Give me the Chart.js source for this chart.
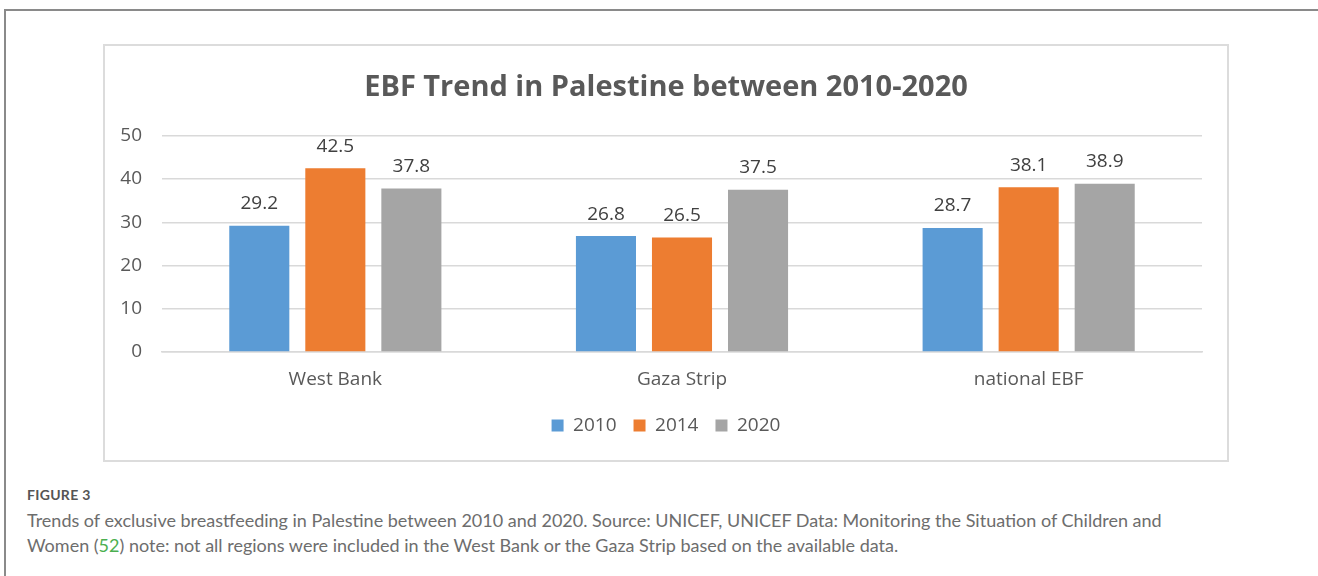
<!DOCTYPE html>
<html>
<head>
<meta charset="utf-8">
<script src="https://cdn.jsdelivr.net/npm/chart.js@4"></script>
<style>
  html, body { margin: 0; padding: 0; background: #fff; }
  body { width: 1318px; height: 576px; position: relative; overflow: hidden; }
  .frame {
    position: absolute; left: 4px; top: 9px; width: 1400px; height: 700px;
    border-top: 2px solid #8a8a8a; border-left: 2px solid #8a8a8a;
  }
  .chart-box {
    position: absolute; left: 103px; top: 44px; width: 1122px; height: 414px;
    border: 2px solid #dcdcdc;
  }
  .chart-box canvas { display: block; }
  .caption {
    position: absolute; left: 27px; top: 486px; width: 1280px;
    font-family: "Lato", "Open Sans", sans-serif; color: #6d6d6d;
  }
  .caption .fig { font-size: 14px; font-weight: 700; color: #555; letter-spacing: 0.3px; margin-bottom: 5px; }
  .caption .txt { font-size: 18px; line-height: 25px; }
  .caption .ref { color: #4caf50; }
</style>
</head>
<body>
<div class="frame"></div>
<div class="chart-box"><canvas id="ebf" width="1122" height="414"></canvas></div>
<div class="caption">
  <div class="fig">FIGURE 3</div>
  <div class="txt">Trends of exclusive breastfeeding in Palestine between 2010 and 2020. Source: UNICEF, UNICEF Data: Monitoring the Situation of Children and<br>Women (<span class="ref">52</span>) note: not all regions were included in the West Bank or the Gaza Strip based on the available data.</div>
</div>
<script>
  // EBF rates (%) by region and survey year
  const regions = ['West Bank', 'Gaza Strip', 'national EBF'];
  const years = ['2010', '2014', '2020'];
  const ebf2010 = [29.2, 26.8, 28.7];
  const ebf2014 = [42.5, 26.5, 38.1];
  const ebf2020 = [37.8, 37.5, 38.9];
  const yTicks = [0, 10, 20, 30, 40, 50];
  const colors = ['#5b9bd5', '#ed7d31', '#a5a5a5'];

  const FONT = '"Open Sans", sans-serif';
  const TEXT = '#595959';

  // value labels drawn above each bar
  const barValues = {
    id: 'barValues',
    afterDatasetsDraw(chart) {
      const ctx = chart.ctx;
      ctx.save();
      ctx.font = '19px ' + FONT;
      ctx.fillStyle = '#404040';
      ctx.textAlign = 'center';
      ctx.textBaseline = 'middle';
      chart.data.datasets.forEach((ds, i) => {
        chart.getDatasetMeta(i).data.forEach((bar, j) => {
          ctx.fillText(ds.data[j].toFixed(1), bar.x, bar.y - 22);
        });
      });
      ctx.restore();
    },
  };

  new Chart(document.getElementById('ebf'), {
    type: 'bar',
    data: {
      labels: regions,
      datasets: [ebf2010, ebf2014, ebf2020].map((vals, i) => ({
        label: years[i],
        data: vals,
        backgroundColor: colors[i],
        categoryPercentage: 0.658,
        barPercentage: 0.79,
      })),
    },
    options: {
      responsive: false,
      animation: false,
      layout: { padding: { top: 0, right: 0, left: 0, bottom: 15 } },
      plugins: {
        title: {
          display: true,
          text: 'EBF Trend in Palestine between 2010-2020',
          color: TEXT,
          font: { family: FONT, size: 29, weight: 'bold' },
          padding: { top: 24, bottom: 31 },
        },
        legend: {
          position: 'bottom',
          labels: {
            color: TEXT,
            font: { family: FONT, size: 19 },
            boxWidth: 12,
            boxHeight: 12,
            padding: 17,
          },
        },
        tooltip: { enabled: false },
      },
      scales: {
        x: {
          grid: { display: false, drawTicks: false },
          border: { color: '#d9d9d9', width: 1.5 },
          ticks: { color: TEXT, font: { family: FONT, size: 19 }, padding: 16 },
          afterFit: s => { s.height = 47; },
        },
        y: {
          min: 0,
          max: 50,
          afterBuildTicks: s => { s.ticks = yTicks.map(v => ({ value: v })); },
          grid: { color: '#d9d9d9', lineWidth: 1.5, drawTicks: false },
          border: { display: false },
          ticks: { color: TEXT, font: { family: FONT, size: 19 }, padding: 20 },
          afterFit: s => { s.width = 57; },
        },
        // empty right-hand margin so the plot keeps a gap to the frame
        gap: {
          type: 'linear',
          position: 'right',
          grid: { display: false, drawTicks: false },
          border: { display: false },
          ticks: { display: false },
          afterFit: s => { s.width = 25; },
        },
      },
    },
    plugins: [barValues],
  });
</script>
</body>
</html>
